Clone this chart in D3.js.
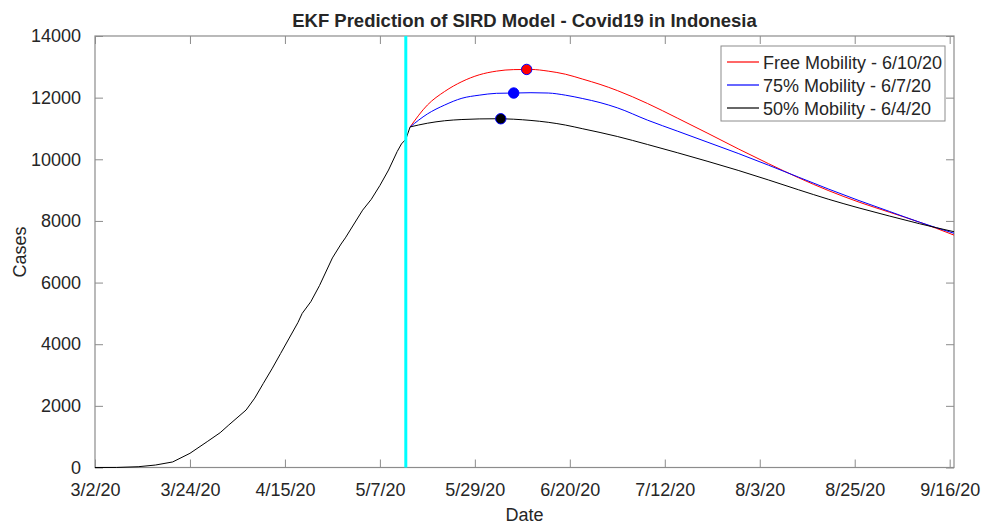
<!DOCTYPE html>
<html>
<head>
<meta charset="utf-8">
<script src="https://cdn.jsdelivr.net/npm/d3@7"></script>
<style>
  body { margin: 0; background: #fff; }
  text { font-family: "Liberation Sans", Arial, sans-serif; fill: #262626; }
</style>
</head>
<body>
<div id="chart"></div>
<script>
var histDates = ["2020-03-02","2020-03-07","2020-03-12","2020-03-16","2020-03-20","2020-03-24",
  "2020-03-28","2020-03-31","2020-04-02","2020-04-06","2020-04-08","2020-04-10","2020-04-12",
  "2020-04-14","2020-04-16","2020-04-18","2020-04-19","2020-04-21","2020-04-23","2020-04-26",
  "2020-04-28","2020-04-29","2020-05-01","2020-05-03","2020-05-05","2020-05-07","2020-05-09",
  "2020-05-11","2020-05-12","2020-05-13","2020-05-14"];
var histValues = [0, 2, 25, 80, 180, 460, 840, 1130, 1380, 1865, 2250, 2730, 3200, 3700, 4200,
  4700, 5000, 5380, 5900, 6800, 7250, 7450, 7900, 8350, 8700, 9150, 9650, 10250, 10500, 10650, 11050];

// EKF predictions
var predDates = ["2020-05-14","2020-05-18","2020-05-22","2020-05-26","2020-05-30","2020-06-03",
  "2020-06-07","2020-06-11","2020-06-15","2020-06-19","2020-06-23","2020-06-27","2020-07-01",
  "2020-07-08","2020-07-15","2020-07-22","2020-07-29","2020-08-05","2020-08-12","2020-08-19",
  "2020-08-26","2020-09-02","2020-09-09","2020-09-17"];
var freeValues = [11050, 11760, 12200, 12520, 12740, 12860, 12910, 12915, 12860, 12760, 12600, 12430,
  12230, 11810, 11330, 10840, 10340, 9860, 9400, 8980, 8610, 8285, 7960, 7540];
var mob75Values = [11050, 11470, 11760, 11980, 12080, 12140, 12150, 12160, 12150, 12080, 11970, 11840,
  11670, 11270, 10910, 10550, 10190, 9810, 9420, 9030, 8660, 8310, 7960, 7600];
var mob50Values = [11050, 11170, 11250, 11290, 11310, 11315, 11300, 11260, 11200, 11110, 10990, 10870,
  10740, 10480, 10210, 9930, 9640, 9330, 9010, 8700, 8420, 8160, 7910, 7650];

var seriesNames = ["Free Mobility - 6/10/20", "75% Mobility - 6/7/20", "50% Mobility - 6/4/20"];
var seriesColors = ["#ff0000", "#0000ff", "#000000"];
var peakDates = ["2020-06-10", "2020-06-07", "2020-06-04"];
var peakValues = [12915, 12150, 11315];

var cutDate = "2020-05-13";
var xTickLabels = ["3/2/20","3/24/20","4/15/20","5/7/20","5/29/20","6/20/20","7/12/20","8/3/20","8/25/20","9/16/20"];
var yTicks = [0, 2000, 4000, 6000, 8000, 10000, 12000, 14000];

var W = 987, H = 525;
var margin = {top: 36, right: 33, bottom: 57.5, left: 95};
var width = W - margin.left - margin.right;
var height = H - margin.top - margin.bottom;

var parse = d3.utcParse("%Y-%m-%d");
var parseTick = d3.utcParse("%m/%d/%y");

var svg = d3.select("#chart").append("svg")
  .attr("width", W)
  .attr("height", H);

var g = svg.append("g")
  .attr("transform", "translate(" + margin.left + "," + margin.top + ")");

var x = d3.scaleUtc()
  .domain([parse("2020-03-02"), parse("2020-09-17")])
  .range([0, width]);
var y = d3.scaleLinear()
  .domain([0, 14000])
  .range([height, 0]);

var tickDates = xTickLabels.map(function(s) { return parseTick(s); });
var fmt = function(d) { return xTickLabels[tickDates.findIndex(function(t) { return +t === +d; })]; };

//axes: ticks inside, mirrored on top and right
var axisColor = "#8c8c8c";
function styleAxis(sel) {
  sel.select(".domain").remove();
  sel.selectAll(".tick line").attr("stroke", axisColor);
  sel.selectAll(".tick text").style("font-size", "18px").attr("fill", "#262626");
}

g.append("g")
  .attr("transform", "translate(0," + height + ")")
  .call(d3.axisBottom(x).tickValues(tickDates).tickFormat(fmt).tickSizeInner(-8).tickPadding(16))
  .call(styleAxis);
g.append("g")
  .call(d3.axisTop(x).tickValues(tickDates).tickFormat("").tickSizeInner(-8))
  .call(styleAxis);
g.append("g")
  .call(d3.axisLeft(y).tickValues(yTicks).tickFormat(d3.format("d")).tickSizeInner(-8).tickPadding(14))
  .call(styleAxis);
g.append("g")
  .attr("transform", "translate(" + width + ",0)")
  .call(d3.axisRight(y).tickValues(yTicks).tickFormat("").tickSizeInner(-8))
  .call(styleAxis);

g.append("rect")
  .attr("width", width)
  .attr("height", height)
  .attr("fill", "none")
  .attr("stroke", axisColor)
  .attr("stroke-width", 1.2);

var line = d3.line()
  .x(function(d) { return x(d[0]); })
  .y(function(d) { return y(d[1]); });

// observed
g.append("path")
  .datum(histDates.map(function(d, i) { return [parse(d), histValues[i]]; }))
  .attr("d", line)
  .attr("fill", "none")
  .attr("stroke", "#000")
  .attr("stroke-width", 1);

// predictions
var predValues = [freeValues, mob75Values, mob50Values];
var smooth = d3.line()
  .curve(d3.curveMonotoneX)
  .x(function(d) { return x(d[0]); })
  .y(function(d) { return y(d[1]); });

predValues.forEach(function(vals, k) {
  g.append("path")
    .datum(predDates.map(function(d, i) { return [parse(d), vals[i]]; }))
    .attr("d", smooth)
    .attr("fill", "none")
    .attr("stroke", seriesColors[k])
    .attr("stroke-width", 1);
});

// cyan separator
g.append("line")
  .attr("x1", x(parse(cutDate))).attr("x2", x(parse(cutDate)))
  .attr("y1", 0).attr("y2", height)
  .attr("stroke", "#00ffff")
  .attr("stroke-width", 3);

// peak markers
g.selectAll(".peak")
  .data(peakDates)
  .enter().append("circle")
  .attr("class", "peak")
  .attr("cx", function(d) { return x(parse(d)); })
  .attr("cy", function(d, i) { return y(peakValues[i]); })
  .attr("r", 5.2)
  .attr("fill", function(d, i) { return seriesColors[i]; })
  .attr("stroke", "#0000ff")
  .attr("stroke-width", 1);

// legend
var leg = svg.append("g").attr("transform", "translate(721,46)");
leg.append("rect")
  .attr("width", 224)
  .attr("height", 75)
  .attr("fill", "#fff")
  .attr("stroke", "#8c8c8c")
  .attr("stroke-width", 1);
seriesNames.forEach(function(name, i) {
  var cy = 16 + i * 23;
  leg.append("line")
    .attr("x1", 6).attr("x2", 38)
    .attr("y1", cy).attr("y2", cy)
    .attr("stroke", seriesColors[i])
    .attr("stroke-width", 1.2);
  leg.append("text")
    .attr("x", 42)
    .attr("y", cy + 7)
    .style("font-size", "18px")
    .text(name);
});

// title and labels
svg.append("text")
  .attr("x", margin.left + width / 2)
  .attr("y", 27)
  .attr("text-anchor", "middle")
  .style("font-size", "18.5px")
  .style("font-weight", "bold")
  .attr("fill", "#000")
  .text("EKF Prediction of SIRD Model - Covid19 in Indonesia");

svg.append("text")
  .attr("x", margin.left + width / 2)
  .attr("y", 521)
  .attr("text-anchor", "middle")
  .style("font-size", "18px")
  .text("Date");

svg.append("text")
  .attr("transform", "translate(26,252) rotate(-90)")
  .attr("text-anchor", "middle")
  .style("font-size", "18px")
  .text("Cases");
</script>
</body>
</html>
